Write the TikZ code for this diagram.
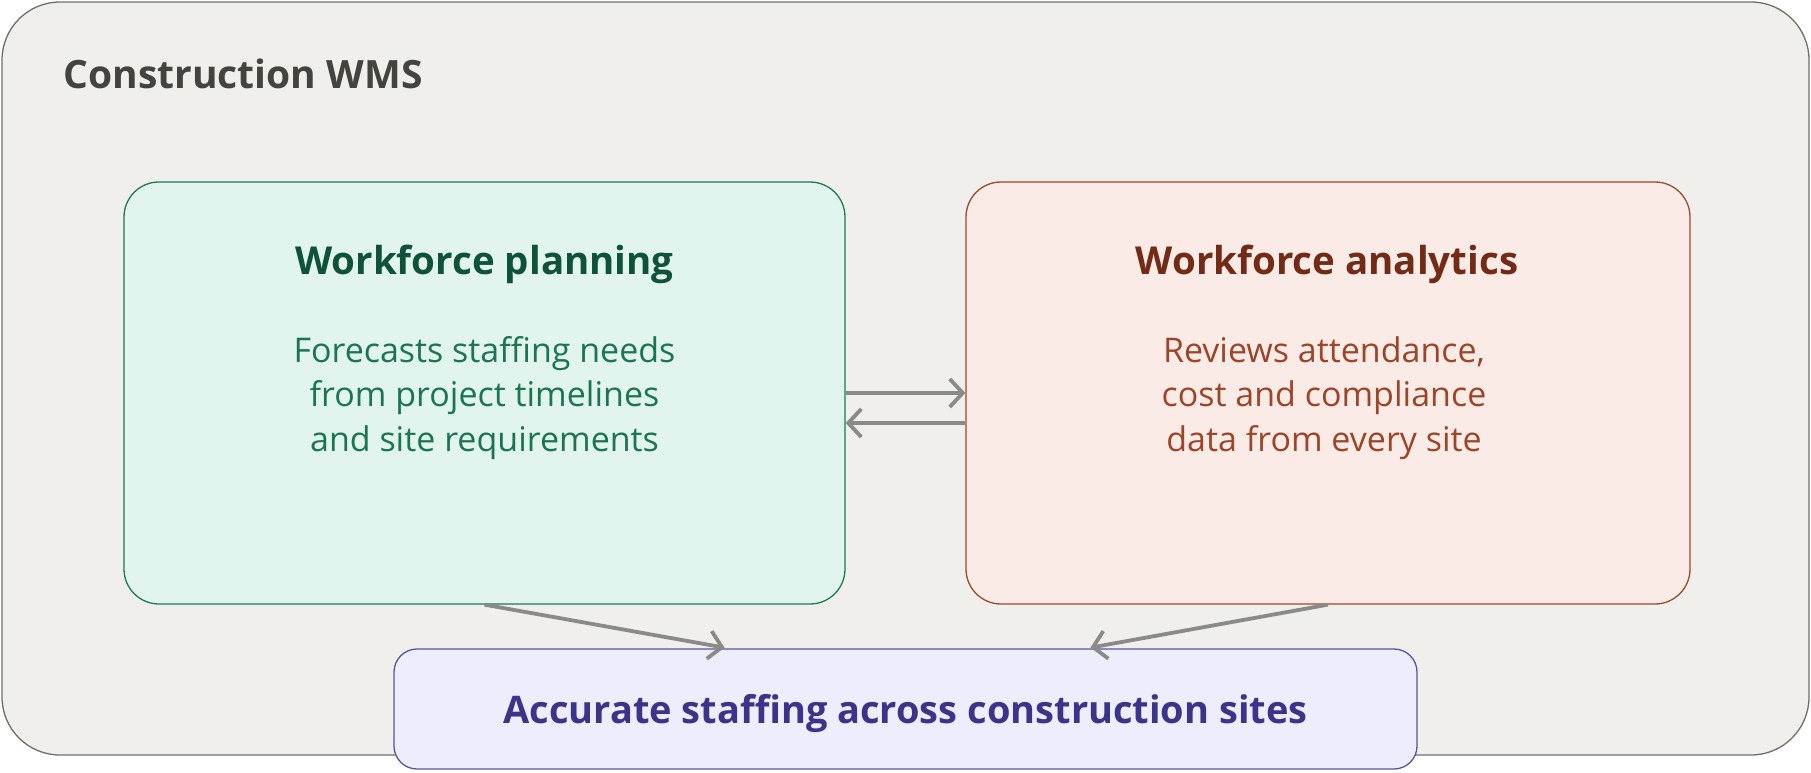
\documentclass[tikz,border=0pt]{standalone}
\usepackage{fontspec}
\setmainfont{Open Sans}
\usetikzlibrary{arrows.meta}
\definecolor{wmsfill}{HTML}{F0EFEC}
\definecolor{wmsline}{HTML}{6E6E6A}
\definecolor{wmstext}{HTML}{44443F}
\definecolor{planfill}{HTML}{E1F5EE}
\definecolor{planline}{HTML}{1D7A55}
\definecolor{planhead}{HTML}{0F523A}
\definecolor{plantext}{HTML}{1B7552}
\definecolor{anafill}{HTML}{FBEBE6}
\definecolor{analine}{HTML}{994A2F}
\definecolor{anahead}{HTML}{712B16}
\definecolor{anatext}{HTML}{9B4529}
\definecolor{goalfill}{HTML}{EEEDFE}
\definecolor{goalline}{HTML}{5B52A3}
\definecolor{goaltext}{HTML}{3C3489}
\definecolor{flowgray}{HTML}{8A8A87}
\begin{document}
\begin{tikzpicture}[x=1pt,y=-1pt,
  panel/.style={draw,line width=1.3pt,rounded corners=35pt,minimum width=721pt,minimum height=422pt},
  head/.style={font=\fontsize{38.5}{46}\selectfont\bfseries},
  body/.style={font=\fontsize{34}{44.5}\selectfont,align=center},
  flow/.style={draw=flowgray,line width=3.8pt,-{Straight Barb[length=13pt,width=28pt]}}]
  \useasboundingbox (0,0) rectangle (1811,773);
  \node[draw=wmsline,fill=wmsfill,line width=1.3pt,rounded corners=58pt,minimum width=1807pt,minimum height=753pt] (wms) at (905.5,378.5) {};
  \node[anchor=west,text=wmstext,font=\fontsize{39}{47}\selectfont\bfseries] (wmstitle) at (60,74) {Construction WMS};
  \node[panel,draw=planline,fill=planfill] (plan) at (484.5,393) {};
  \node[head,text=planhead] (planhead) at (484.5,264) {Workforce planning};
  \node[body,text=plantext] (plantext) at (484.5,398) {Forecasts staffing needs\\from project timelines\\ and site requirements};
  \node[panel,draw=analine,fill=anafill,minimum width=724pt] (ana) at (1328,393) {};
  \node[head,text=anahead] (anahead) at (1327,264) {Workforce analytics};
  \node[body,text=anatext] (anatext) at (1324,398) {Reviews attendance,\\cost and compliance\\ data from every site};
  \node[draw=goalline,fill=goalfill,line width=1.3pt,rounded corners=23pt,minimum width=1023pt,minimum height=120pt,text depth=0pt,text=goaltext,font=\fontsize{38}{46}\selectfont\bfseries] (goal) at (905.5,709) {Accurate staffing across construction sites};
  \draw[flow] (plan.east) -- (ana.west);
  \draw[flow] ([yshift=-30pt]ana.west) -- ([yshift=-30pt]plan.east);
  \draw[flow,shorten >=4pt] (plan.south) -- ([xshift=-177pt]goal.north);
  \draw[flow,shorten >=4pt] (ana.south) -- ([xshift=181pt]goal.north);
\end{tikzpicture}
\end{document}
